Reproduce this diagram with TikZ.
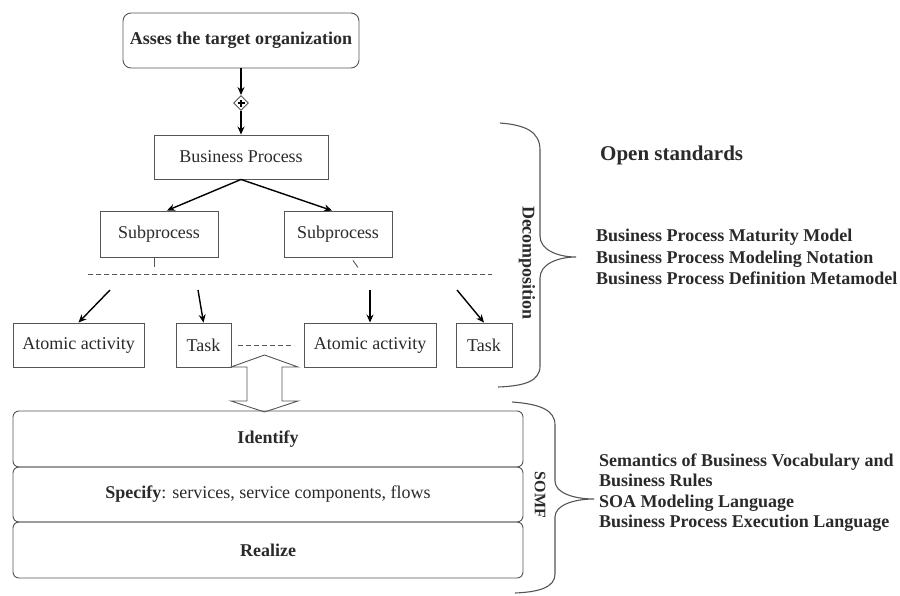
\documentclass[tikz,border=0pt]{standalone}
\usepackage{fontspec}
\setmainfont{Liberation Serif}
\usetikzlibrary{arrows.meta,shapes.geometric}
\definecolor{ink}{HTML}{2A2A2A}
\definecolor{edge}{HTML}{555555}
\tikzset{
  box/.style={draw=edge,line width=0.9pt,inner sep=0pt,text=ink,font=\fontsize{18}{21}\selectfont},
  roundbox/.style={box,rounded corners=6pt},
  flow/.style={draw=black,line width=1.4pt,-{Stealth[length=8pt,width=7pt]}},
  brace/.style={draw=edge,line width=1.1pt},
  sidelabel/.style={text=ink,font=\bfseries\fontsize{18}{21.5}\selectfont,anchor=west,align=left,inner sep=0pt},
  vlabel/.style={text=ink,rotate=-90,inner sep=0pt}
}
\begin{document}
\begin{tikzpicture}[x=1pt,y=-1pt]
\useasboundingbox (0,0) rectangle (900,595);

% top of the process hierarchy
\node[roundbox,rounded corners=8pt,minimum width=236pt,minimum height=55pt,font=\bfseries\fontsize{18}{21}\selectfont] (assess) at (241,40.5) {Asses the target organization};
\node[draw=edge,line width=0.9pt,diamond,minimum size=15pt,inner sep=0pt,
  path picture={\draw[black,line width=1.2pt]
    ([xshift=-3.5pt]path picture bounding box.center) -- ([xshift=3.5pt]path picture bounding box.center)
    ([yshift=-3.5pt]path picture bounding box.center) -- ([yshift=3.5pt]path picture bounding box.center);}] (gate) at (241,103) {};
\node[box,minimum width=174pt,minimum height=44pt] (bp) at (241,157) {Business Process};
\node[box,minimum width=118pt,minimum height=46pt] (sp1) at (159,234) {Subprocess};
\node[box,minimum width=108pt,minimum height=46pt] (sp2) at (338,234) {Subprocess};

\draw[flow] (assess.south) -- (gate.north);
\draw[flow] (gate.south) -- (bp.north);
\draw[flow] (bp.south) -- ([xshift=8pt]sp1.north);
\draw[flow] (bp.south) -- ([xshift=-6pt]sp2.north);

% small stubs under the subprocesses
\draw[edge,line width=0.9pt] ([xshift=-5pt]sp1.south) -- ++(0,10);
\draw[edge,line width=0.9pt] ([xshift=15pt,yshift=-3pt]sp2.south) -- ++(5,7);

% decomposition level
\coordinate (dl) at (88,274);
\coordinate (dr) at (492,274);
\draw[edge,line width=0.9pt,dash pattern=on 5pt off 3pt] (dl) -- (dr);

\node[box,minimum width=131pt,minimum height=44pt] (aa1) at (78.5,345) {Atomic activity};
\node[box,minimum width=55pt,minimum height=44pt] (task1) at (203.5,345) {Task};
\node[box,minimum width=132pt,minimum height=44pt] (aa2) at (370,345) {Atomic activity};
\node[box,minimum width=56pt,minimum height=44pt] (task2) at (484,345) {Task};

\coordinate (s1) at (110,290);
\coordinate (s2) at (198,290);
\coordinate (s3) at (370,290);
\coordinate (s4) at (457,290);
\draw[flow] (s1) -- (aa1.north);
\draw[flow] (s2) -- (task1.north);
\draw[flow] (s3) -- (aa2.north);
\draw[flow] (s4) -- (task2.north);
\draw[edge,line width=0.9pt,dash pattern=on 5pt off 3pt] ([xshift=7pt]task1.east) -- ([xshift=-11pt]aa2.west);

% hollow two-way arrow
\draw[edge,line width=0.9pt,fill=white]
  (264.5,355) -- (298,367) -- (282,367) -- (282,401) -- (298,401) -- (264.5,412)
  -- (231,401) -- (247,401) -- (247,367) -- (231,367) -- cycle;

% SOMF stages
\node[roundbox,minimum width=510pt,minimum height=56pt,font=\bfseries\fontsize{18}{21}\selectfont] (identify) at (268,439) {Identify};
\node[roundbox,minimum width=510pt,minimum height=55pt] (specify) at (268,494.5) {\textbf{Specify}: services, service components, flows};
\node[roundbox,minimum width=510pt,minimum height=56pt,font=\bfseries\fontsize{18}{21}\selectfont] (realize) at (268,550) {Realize};

% braces
\draw[brace] (500,123) .. controls (526,125) and (540,132) .. (540,150) -- (540,236)
  .. controls (540,250) and (558,257) .. (576,257)
  .. controls (558,257) and (540,264) .. (540,278) -- (540,366)
  .. controls (540,381) and (525,386) .. (498,387);
\draw[brace] (512,402) .. controls (540,404) and (555,410) .. (555,425) -- (555,481)
  .. controls (555,493) and (574,499) .. (594,499)
  .. controls (574,499) and (555,505) .. (555,517) -- (555,574)
  .. controls (555,587) and (540,592) .. (515,593);

\node[vlabel,font=\bfseries\fontsize{18}{21}\selectfont] (decomp) at (527,263) {Decomposition};
\node[vlabel,font=\bfseries\fontsize{16}{19}\selectfont] (somf) at (540,495) {SOMF};

% standards
\node[sidelabel,font=\bfseries\fontsize{21}{24}\selectfont] (open) at (600,155) {Open standards};
\node[sidelabel] (bpstd) at (596,257) {Business Process Maturity Model\\Business Process Modeling Notation\\Business Process Definition Metamodel};
\node[sidelabel,font=\bfseries\fontsize{18}{20.5}\selectfont] (somfstd) at (599,492.5) {Semantics of Business Vocabulary and\\Business Rules\\SOA Modeling Language\\Business Process Execution Language};
\end{tikzpicture}
\end{document}
